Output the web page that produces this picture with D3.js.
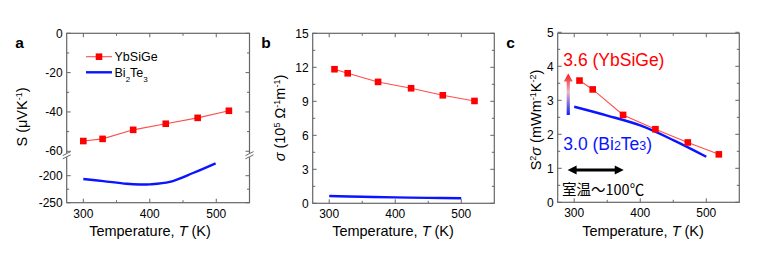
<!DOCTYPE html>
<html><head><meta charset="utf-8">
<script src="https://cdn.jsdelivr.net/npm/d3@7"></script>
<style>body{margin:0;background:#fff}svg{display:block;font-family:"Liberation Sans",Arial,sans-serif}</style>
</head><body><svg id="c" width="768" height="253"></svg>
<script>
// ---- data ----
const tempSYb = [300, 329, 375, 424, 472, 519];
const seebeckYb = [-54.8, -53.7, -49.1, -46.0, -43.0, -39.4];
const tempSBi = [300, 330, 365, 385, 400, 430, 465, 499];
const seebeckBi = [-206, -210, -215, -216.3, -216, -211.5, -195, -177];

const tempSigYb = [308, 328, 374, 424, 472, 520];
const sigmaYb = [11.83, 11.47, 10.71, 10.15, 9.53, 9.03];
const tempSigBi = [300, 350, 400, 450, 500];
const sigmaBi = [0.64, 0.58, 0.52, 0.48, 0.45];

const tempPFYb = [308, 328, 374, 423, 472, 519];
const pfYb = [3.58, 3.32, 2.57, 2.15, 1.76, 1.41];
const tempPFBi = [300, 350, 400, 450, 500];
const pfBi = [2.81, 2.55, 2.26, 1.83, 1.34];

const xTicks = [300, 400, 500];
const xMinor = [350, 450];
const sTicks = [-250, -200, -60, -40, -20, 0];
const sMinor = [-225, -50, -30, -10];
const sigTicks = [0, 3, 6, 9, 12, 15];
const sigMinor = [1.5, 4.5, 7.5, 10.5, 13.5];
const pfTicks = [0, 1, 2, 3, 4, 5];
const pfMinor = [0.5, 1.5, 2.5, 3.5, 4.5];

const RED = "#ff0000", RED_LINE = "#ff4d4d", BLUE = "#0a14ff", FRAME = "#666";
const svg = d3.select("#c");
svg.append("rect").attr("width", 768).attr("height", 253).attr("fill", "#fff");
const defs = svg.append("defs");
const labelJobs = [];

function panel(box, yScale, yTicks, yMinor, letter, titleX) {
  const g = svg.append("g");
  const x = d3.scaleLinear().domain([275, 550]).range([box.x0, box.x1]);
  const tk = (v, len, axis) => {
    if (axis === "x") {
      const px = x(v);
      g.append("line").attr("x1", px).attr("x2", px).attr("y1", box.y1).attr("y2", box.y1 - len).attr("stroke", FRAME);
      g.append("line").attr("x1", px).attr("x2", px).attr("y1", box.y0).attr("y2", box.y0 + len).attr("stroke", FRAME);
    } else {
      const py = yScale(v);
      g.append("line").attr("y1", py).attr("y2", py).attr("x1", box.x0).attr("x2", box.x0 + len).attr("stroke", FRAME);
      g.append("line").attr("y1", py).attr("y2", py).attr("x1", box.x1).attr("x2", box.x1 - len).attr("stroke", FRAME);
    }
  };
  xTicks.forEach(v => tk(v, 4, "x"));
  xMinor.forEach(v => tk(v, 2.5, "x"));
  yTicks.forEach(v => tk(v, 4, "y"));
  yMinor.forEach(v => tk(v, 2.5, "y"));
  g.append("rect").attr("x", box.x0).attr("y", box.y0).attr("width", box.x1 - box.x0)
    .attr("height", box.y1 - box.y0).attr("fill", "none").attr("stroke", FRAME).attr("stroke-width", 1.2);
  xTicks.forEach(v => g.append("text").attr("x", x(v)).attr("y", box.y1 + 15).attr("text-anchor", "middle")
    .attr("font-size", 12).text(String(v)));
  labelJobs.push(() => yTicks.forEach(v => svg.append("text").attr("x", box.x0 - 4).attr("y", yScale(v) + 4.2)
    .attr("text-anchor", "end").attr("font-size", 12).attr("fill", "#000").text(String(v))));
  const t = g.append("text").attr("x", titleX).attr("y", 236).attr("text-anchor", "middle").attr("font-size", 14.5);
  t.append("tspan").text("Temperature, ");
  t.append("tspan").attr("font-style", "italic").text("T");
  t.append("tspan").text(" (K)");
  g.append("text").attr("x", box.x0 - 51.5).attr("y", 48).attr("font-size", 15.5).attr("font-weight", "bold").text(letter);
  return {g, x};
}

function redSeries(p, xs, ys, y) {
  const pts = xs.map((t, i) => [p.x(t), y(ys[i])]);
  p.g.append("path").attr("d", d3.line()(pts)).attr("fill", "none").attr("stroke", RED_LINE).attr("stroke-width", 1.1);
  pts.forEach(q => p.g.append("rect").attr("x", q[0] - 3.3).attr("y", q[1] - 3.3).attr("width", 6.6).attr("height", 6.6).attr("fill", RED));
}
function blueSeries(p, xs, ys, y) {
  const pts = xs.map((t, i) => [p.x(t), y(ys[i])]);
  p.g.append("path").attr("d", d3.line().curve(d3.curveCatmullRom)(pts)).attr("fill", "none").attr("stroke", BLUE).attr("stroke-width", 2.4);
}
function yLabel(cx, cy, build) {
  const t = svg.append("text").attr("transform", `translate(${cx},${cy}) rotate(-90)`).attr("text-anchor", "middle").attr("font-size", 14.5);
  build(t);
}
function sup(t, s) { t.append("tspan").attr("baseline-shift", "super").attr("font-size", 9).text(s); }
function sub(t, s, fs) { t.append("tspan").attr("baseline-shift", "sub").attr("font-size", fs || 9).text(s); }

// ---- panel a ----
const boxA = {x0: 66.7, x1: 249.5, y0: 33.3, y1: 202.7};
const yUpper = d3.scaleLinear().domain([-62, 0]).range([155.2, 33.3]);
const yLower = d3.scaleLinear().domain([-250, -162]).range([202.7, 155.2]);
const yA = v => (v >= -62 ? yUpper(v) : yLower(v));
const pa = panel(boxA, yA, sTicks, sMinor, "a", 150);
redSeries(pa, tempSYb, seebeckYb, yA);
blueSeries(pa, tempSBi, seebeckBi, yA);
[boxA.x0, boxA.x1].forEach(xx => {
  pa.g.append("rect").attr("x", xx - 2).attr("y", 153.2).attr("width", 4).attr("height", 4).attr("fill", "#fff");
  [-1.6, 1.6].forEach(d => pa.g.append("line").attr("x1", xx - 4).attr("x2", xx + 4).attr("y1", 155.2 + d + 2).attr("y2", 155.2 + d - 2)
    .attr("stroke", FRAME).attr("stroke-width", 1));
});
// legend
pa.g.append("line").attr("x1", 86).attr("x2", 112).attr("y1", 56.7).attr("y2", 56.7).attr("stroke", RED_LINE).attr("stroke-width", 1.1);
pa.g.append("rect").attr("x", 99 - 3.3).attr("y", 56.7 - 3.3).attr("width", 6.6).attr("height", 6.6).attr("fill", RED);
pa.g.append("text").attr("x", 114.5).attr("y", 61).attr("font-size", 12.5).text("YbSiGe");
pa.g.append("line").attr("x1", 86).attr("x2", 112).attr("y1", 72.3).attr("y2", 72.3).attr("stroke", BLUE).attr("stroke-width", 2.4);
{
  const t = pa.g.append("text").attr("x", 114.5).attr("y", 76.5).attr("font-size", 12.5);
  t.append("tspan").text("Bi"); sub(t, "2", 8); t.append("tspan").text("Te"); sub(t, "3", 8);
}
yLabel(27, 117, t => {
  t.append("tspan").text("S (\u03bcVK"); sup(t, "-1"); t.append("tspan").text(")");
});

// ---- panel b ----
const boxB = {x0: 312.7, x1: 494.3, y0: 33.3, y1: 203.3};
const yB = d3.scaleLinear().domain([0, 15]).range([203.3, 33.3]);
const pb = panel(boxB, yB, sigTicks, sigMinor, "b", 393);
redSeries(pb, tempSigYb, sigmaYb, yB);
blueSeries(pb, tempSigBi, sigmaBi, yB);
yLabel(285, 118, t => {
  t.append("tspan").attr("font-style", "italic").text("\u03c3");
  t.append("tspan").text("  (10"); sup(t, "5"); t.append("tspan").text(" \u03a9"); sup(t, "-1");
  t.append("tspan").text("m"); sup(t, "-1"); t.append("tspan").text(")");
});

// ---- panel c ----
const boxC = {x0: 557.7, x1: 739.3, y0: 33.3, y1: 202.3};
const yC = d3.scaleLinear().domain([0, 5]).range([202.3, 32.3]);
const pc = panel(boxC, yC, pfTicks, pfMinor, "c", 643);
blueSeries(pc, tempPFBi, pfBi, yC);
redSeries(pc, tempPFYb, pfYb, yC);
yLabel(541, 120, t => {
  t.append("tspan").text("S"); sup(t, "2"); t.append("tspan").attr("font-style", "italic").text("\u03c3");
  t.append("tspan").text("  (mWm"); sup(t, "-1"); t.append("tspan").text("K"); sup(t, "-2"); t.append("tspan").text(")");
});
const grad = defs.append("linearGradient").attr("id", "gr").attr("x1", 0).attr("y1", 0).attr("x2", 0).attr("y2", 1);
grad.append("stop").attr("offset", "0%").attr("stop-color", "#ff1010");
grad.append("stop").attr("offset", "45%").attr("stop-color", "#e8b8c8");
grad.append("stop").attr("offset", "100%").attr("stop-color", "#1020ff");
const ax = pc.x(291), aTop = yC(3.79), aBot = yC(2.57);
pc.g.append("path").attr("d", `M${ax - 1.6},${aBot} L${ax - 1.6},${aTop + 8} L${ax - 4.5},${aTop + 8} L${ax},${aTop} L${ax + 4.5},${aTop + 8} L${ax + 1.6},${aTop + 8} L${ax + 1.6},${aBot} Z`)
  .attr("fill", "url(#gr)");
const dy = yC(0.95), dx0 = pc.x(290), dx1 = pc.x(375);
pc.g.append("line").attr("x1", dx0 + 6).attr("x2", dx1 - 6).attr("y1", dy).attr("y2", dy).attr("stroke", "#000").attr("stroke-width", 2.8);
pc.g.append("path").attr("d", `M${dx0},${dy} L${dx0 + 9},${dy - 4.5} L${dx0 + 9},${dy + 4.5} Z M${dx1},${dy} L${dx1 - 9},${dy - 4.5} L${dx1 - 9},${dy + 4.5} Z`).attr("fill", "#000");
pc.g.append("text").attr("x", 563.3).attr("y", 65.8).attr("font-size", 17.5).attr("fill", RED).text("3.6 (YbSiGe)");
{
  const t = pc.g.append("text").attr("x", 563.3).attr("y", 150.3).attr("font-size", 17.5).attr("fill", BLUE);
  t.append("tspan").text("3.0 (Bi"); t.append("tspan").attr("font-size", 12.5).text("2");
  t.append("tspan").text("Te"); t.append("tspan").attr("font-size", 12.5).text("3"); t.append("tspan").text(")");
}
pc.g.append("text").attr("x", 562).attr("y", 194.8).attr("font-size", 14.5)
  .attr("font-family", "'Noto Sans CJK JP', 'Liberation Sans', sans-serif").text("室温～100℃");
labelJobs.forEach(f => f());
</script></body></html>
